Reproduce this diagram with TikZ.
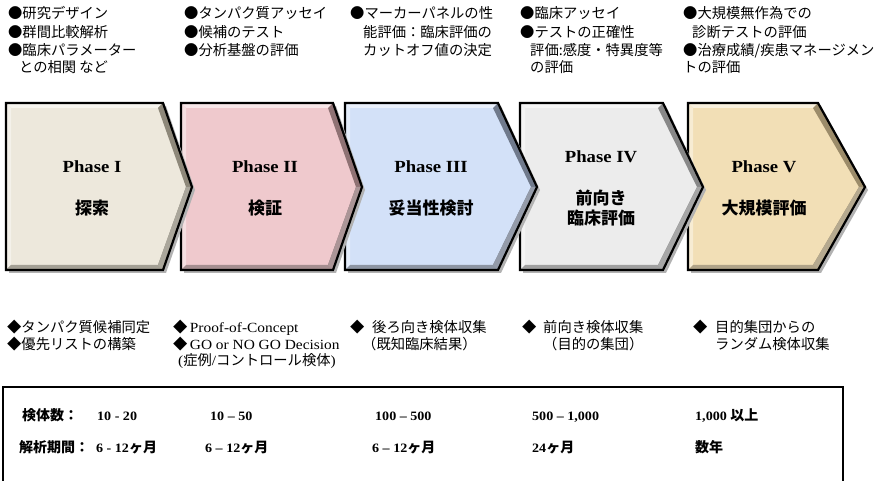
\documentclass[tikz,border=0pt]{standalone}
\usepackage{fontspec}
\setmainfont{Liberation Serif}[FakeStretch=1.1]
\newfontfamily\pal{Liberation Serif}[FakeStretch=1.1]
\newfontfamily\jp{Noto Sans CJK JP}
\begin{document}
\begin{tikzpicture}[x=1pt,y=-1pt]
\tikzset{
  tl/.style={anchor=base west,inner sep=0pt,font=\jp\fontsize{14.3}{16}\selectfont},
  bl/.style={anchor=base west,inner sep=0pt,font=\jp\fontsize{14.3}{16}\selectfont},
  bx/.style={anchor=base west,inner sep=0pt,font=\pal\bfseries\fontsize{12.8}{15}\selectfont},
  ph/.style={anchor=base,inner sep=0pt,font=\pal\bfseries\fontsize{17}{18}\selectfont},
  pj/.style={anchor=base,inner sep=0pt,font=\jp\bfseries\fontsize{17}{20}\selectfont},
  outline/.style={draw=black,line width=2.2pt,line join=miter},
}
\newcommand\jb{\jp\bfseries\fontsize{14}{15}\selectfont}
\newcommand\lat{\pal\fontsize{14}{16}\selectfont}
\newcommand\mychev[5]{%
  \fill[black!30] (#1+3,106) -- (#2+3,106) -- (#3+3,190) -- (#2+3,273) -- (#1+3,273) -- cycle;
  \fill[#4] (#1,103) -- (#2,103) -- (#3,187) -- (#2,270) -- (#1,270) -- cycle;
  \fill[white!55!#4] (#1,103) -- (#2,103) -- (#2-5,108) -- (#1+5,108) -- cycle;
  \fill[white!40!#4] (#1,103) -- (#1+5,108) -- (#1+5,265) -- (#1,270) -- cycle;
  \fill[#5] (#2,103) -- (#3,187) -- (#2,270) -- (#2-5,265) -- (#3-6,187) -- (#2-5,108) -- cycle;
  \fill[#5!75!white] (#3,187) -- (#2,270) -- (#2-5,265) -- (#3-6,187) -- cycle;
  \fill[#5!80!white] (#1,270) -- (#2,270) -- (#2-5,265) -- (#1+5,265) -- cycle;
  \draw[outline] (#1,103) -- (#2,103) -- (#3,187) -- (#2,270) -- (#1,270) -- cycle;
}
\useasboundingbox (0,0) rectangle (879,481);
\clip (0,0) rectangle (879,481);
\fill[white] (0,0) rectangle (879,481);

% chevrons (drawn right to left so that each tip lies over the next)
\definecolor{cI}{HTML}{EDE8DC}\definecolor{dI}{HTML}{8E887A}
\definecolor{cII}{HTML}{EFC9CD}\definecolor{dII}{HTML}{8F7274}
\definecolor{cIII}{HTML}{D3E1F8}\definecolor{dIII}{HTML}{707A8C}
\definecolor{cIV}{HTML}{ECECEC}\definecolor{dIV}{HTML}{888888}
\definecolor{cV}{HTML}{F2DFB6}\definecolor{dV}{HTML}{9C8C6A}
\mychev{688}{818}{865}{cV}{dV}
\mychev{520}{663}{703}{cIV}{dIV}
\mychev{345}{498}{537}{cIII}{dIII}
\mychev{181}{333}{362}{cII}{dII}
\mychev{6}{163}{192}{cI}{dI}

\node[ph] (p1) at (92,173) {Phase I};
\node[pj] (p1j) at (92,215) {探索};
\node[ph] (p2) at (265,173) {Phase II};
\node[pj] (p2j) at (265,215) {検証};
\node[ph] (p3) at (431,173) {Phase III};
\node[pj] (p3j) at (431,215) {妥当性検討};
\node[ph] (p4) at (601,163) {Phase IV};
\node[pj] (p4j) at (601,205) {前向き};
\node[pj] (p4k) at (601,225) {臨床評価};
\node[ph] (p5) at (764,173) {Phase V};
\node[pj] (p5j) at (764,215) {大規模評価};

% top texts
\node[tl] (a1) at (8,19) {●研究デザイン};
\node[tl] (a2) at (8,37.5) {●群間比較解析};
\node[tl] (a3) at (8,55.5) {●臨床パラメーター};
\node[tl] (a4) at (19,73) {との相関 など};
\node[tl] (b1) at (184,19) {●タンパク質アッセイ};
\node[tl] (b2) at (184,37.5) {●候補のテスト};
\node[tl] (b3) at (184,55.5) {●分析基盤の評価};
\node[tl] (c1) at (350,19) {●マーカーパネルの性};
\node[tl] (c2) at (363,37.5) {能評価：臨床評価の};
\node[tl] (c3) at (363,55.5) {カットオフ値の決定};
\node[tl] (d1) at (520,19) {●臨床アッセイ};
\node[tl] (d2) at (520,37.5) {●テストの正確性};
\node[tl] (d3) at (530,55.5) {評価:感度・特異度等};
\node[tl] (d4) at (530,73) {の評価};
\node[tl] (e1) at (683,19) {●大規模無作為での};
\node[tl] (e2) at (692,37.5) {診断テストの評価};
\node[tl] (e3) at (683,55.5) {●治療成績/疾患マネージメン};
\node[tl] (e4) at (683,73) {トの評価};

% lower texts
\node[bl] (f1) at (7,333) {◆タンパク質候補同定};
\node[bl] (f2) at (7,349) {◆優先リストの構築};
\node[bl] (g1) at (173,333) {◆\,{\lat Proof-of-Concept}};
\node[bl] (g2) at (173,349) {◆\,{\lat GO or NO GO Decision}};
\node[bl] (g3) at (178,366) {{\lat (}症例{\lat /}コントロール検体{\lat )}};
\node[bl] (h0) at (350,333) {◆};
\node[bl] (h1) at (372,333) {後ろ向き検体収集};
\node[bl] (h2) at (362,349) {（既知臨床結果）};
\node[bl] (i0) at (522,333) {◆};
\node[bl] (i1) at (543,333) {前向き検体収集};
\node[bl] (i2) at (543,349) {（目的の集団）};
\node[bl] (j0) at (693,333) {◆};
\node[bl] (j1) at (715,333) {目的集団からの};
\node[bl] (j2) at (715,349) {ランダム検体収集};

% bottom box
\draw[line width=1.5pt] (3,500) -- (3,387) -- (843,387) -- (843,500);
\node[bx] (k0) at (22,420) {{\jb 検体数：}};
\node[bx] (k1) at (97,420) {10 - 20};
\node[bx] (k2) at (210,420) {10 – 50};
\node[bx] (k3) at (375,420) {100 – 500};
\node[bx] (k4) at (532,420) {500 – 1,000};
\node[bx] (k5) at (695,420) {1,000 {\jb 以上}};
\node[bx] (m0) at (19,452) {{\jb 解析期間：}};
\node[bx] (m1) at (96,452) {6 - 12{\jb ヶ月}};
\node[bx] (m2) at (205,452) {6 – 12{\jb ヶ月}};
\node[bx] (m3) at (372,452) {6 – 12{\jb ヶ月}};
\node[bx] (m4) at (532,452) {24{\jb ヶ月}};
\node[bx] (m5) at (695,452) {{\jb 数年}};
\end{tikzpicture}
\end{document}
